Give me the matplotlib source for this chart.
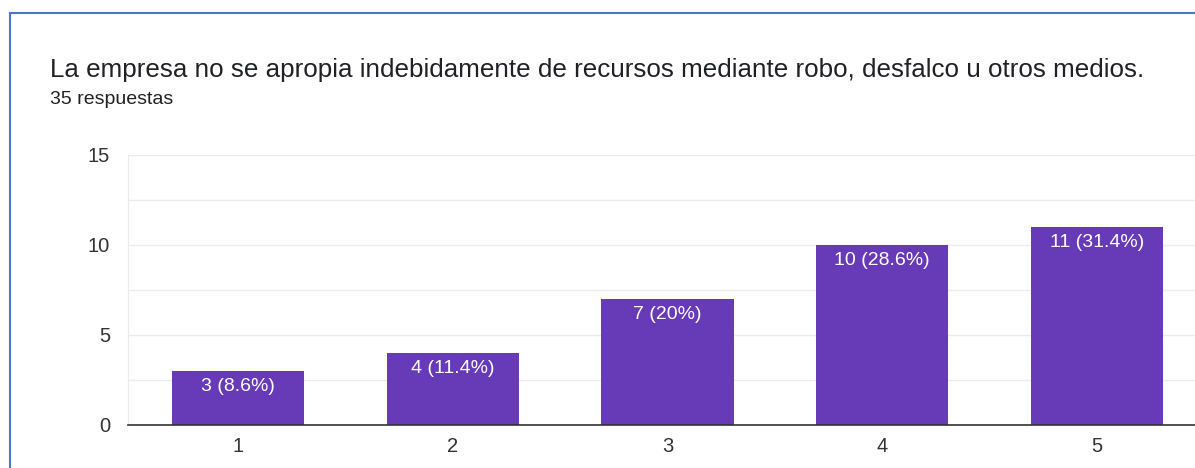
import matplotlib
matplotlib.use("Agg")
import matplotlib.pyplot as plt
from matplotlib.ticker import MultipleLocator
from matplotlib.patches import Rectangle

categories = [1, 2, 3, 4, 5]
counts = [3, 4, 7, 10, 11]
labels = ["3 (8.6%)", "4 (11.4%)", "7 (20%)", "10 (28.6%)", "11 (31.4%)"]
title = "La empresa no se apropia indebidamente de recursos mediante robo, desfalco u otros medios."
subtitle = "35 respuestas"

plt.rcParams["font.family"] = ["Liberation Sans", "DejaVu Sans"]

fig = plt.figure(figsize=(11.95, 4.68), dpi=100)
ax = fig.add_axes([128 / 1195, 1 - 425 / 468, 1 - 128 / 1195, (425 - 155) / 468])

# marco azul
fig.patches.append(Rectangle((9.5 / 1195, -0.1), 1.2, 1 - 12.5 / 468 + 0.1,
                             transform=fig.transFigure, fill=False,
                             edgecolor="#4a78c8", linewidth=1.5))

bars = ax.bar(categories, counts, width=0.615, color="#673ab7", zorder=3)
for b, lab in zip(bars, labels):
    ax.text(b.get_x() + b.get_width() / 2, b.get_height() - 0.4, lab,
            ha="center", va="top", color="white", fontsize=14, zorder=4)

ax.set_xlim(0.488, 5.456)
ax.set_ylim(0, 15)
ax.set_yticks([0, 5, 10, 15])
ax.yaxis.set_minor_locator(MultipleLocator(2.5))
ax.grid(axis="y", which="both", color="#ececec", linewidth=1, zorder=0)
ax.set_xticks(categories)

for s in ["top", "right"]:
    ax.spines[s].set_visible(False)
ax.spines["left"].set_color("#ececec")
ax.spines["bottom"].set_color("#333333")
ax.spines["bottom"].set_linewidth(1.2)
ax.spines["bottom"].set_zorder(5)
ax.tick_params(axis="both", which="both", length=0, labelsize=14.5, colors="#333333")
ax.tick_params(axis="y", pad=13)
ax.tick_params(axis="x", pad=9)

fig.text(50 / 1195, 1 - 70 / 468, title, fontsize=18.7, color="#202124", va="center")
fig.text(50 / 1195, 1 - 100 / 468, subtitle, fontsize=14, color="#202124", va="center")

fig.savefig("out.png", dpi=100)
